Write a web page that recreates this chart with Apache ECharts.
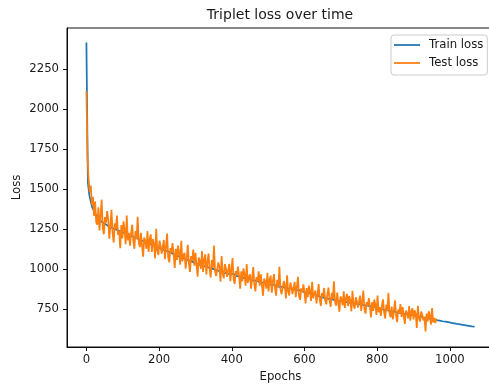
<!DOCTYPE html>
<html>
<head>
<meta charset="utf-8">
<script src="https://cdn.jsdelivr.net/npm/echarts@6/dist/echarts.min.js"></script>
<style>html,body{margin:0;padding:0;background:#fff;}#c{width:489px;height:389px;}</style>
</head>
<body>
<div id="c"></div>
<script>
// Sampling steps (epochs) between consecutive stored values
const trainStep = 4;
const testStep = 3;
const xTicks = [0, 200, 400, 600, 800, 1000];
const yTicks = [750, 1000, 1250, 1500, 1750, 2000, 2250];
const seriesNames = ['Train loss', 'Test loss'];

const trainLoss = [
  2414, 1540, 1460, 1420, 1385, 1365, 1345, 1330, 1318, 1305,
  1296, 1291, 1283, 1280, 1274, 1268, 1266, 1259, 1257, 1251,
  1249, 1243, 1241, 1236, 1233, 1227, 1226, 1220, 1218, 1212,
  1210, 1204, 1203, 1197, 1195, 1189, 1188, 1182, 1180, 1174,
  1172, 1166, 1165, 1159, 1156, 1150, 1149, 1143, 1140, 1135,
  1133, 1127, 1125, 1119, 1117, 1111, 1109, 1104, 1102, 1096,
  1094, 1088, 1086, 1080, 1078, 1072, 1070, 1065, 1063, 1057,
  1055, 1050, 1048, 1043, 1040, 1035, 1033, 1028, 1026, 1021,
  1021, 1017, 1016, 1011, 1010, 1005, 1004, 999, 998, 993,
  992, 987, 986, 981, 980, 975, 974, 969, 968, 966,
  965, 969, 960, 956, 961, 952, 948, 944, 950, 941,
  938, 942, 934, 930, 935, 926, 923, 927, 919, 916,
  920, 913, 911, 915, 907, 904, 908, 900, 897, 900,
  893, 890, 894, 886, 884, 888, 880, 878, 882, 876,
  875, 879, 871, 869, 872, 865, 863, 866, 859, 857,
  856, 851, 853, 848, 850, 844, 846, 840, 842, 835,
  826, 822, 825, 819, 821, 815, 818, 812, 814, 809,
  808, 804, 807, 800, 803, 797, 800, 794, 797, 791,
  794, 788, 791, 785, 788, 782, 785, 779, 782, 776,
  779, 773, 776, 769, 772, 766, 769, 762, 765, 759,
  758, 751, 754, 747, 750, 743, 746, 740, 743, 736,
  739, 733, 736, 729, 732, 725, 728, 722, 725, 718,
  721, 715, 718, 711, 714, 708, 711, 704, 707, 701,
  704, 697, 700, 694, 697, 690, 693, 687, 690, 683,
  686, 679, 682, 676, 679, 672, 675, 669, 672, 666,
  669, 662, 665, 659, 662, 655, 658, 652, 655, 649,
  652, 646, 649, 643, 646, 640, 643, 638
];

const testLoss = [
  2110, 1700, 1560, 1480, 1520, 1400, 1450, 1330, 1420, 1290,
  1276, 1384, 1240, 1336, 1432, 1252, 1216, 1324, 1288, 1360,
  1308, 1188, 1272, 1368, 1224, 1164, 1284, 1248, 1332, 1212,
  1237, 1129, 1273, 1189, 1297, 1249, 1153, 1333, 1177, 1225,
  1145, 1225, 1275, 1175, 1125, 1235, 1185, 1325, 1165, 1135,
  1225, 1145, 1075, 1195, 1175, 1125, 1235, 1105, 1185, 1215,
  1105, 1185, 1155, 1065, 1250, 1115, 1085, 1175, 1145, 1095,
  1090, 1180, 1060, 1140, 1220, 1070, 1040, 1130, 1100, 1160,
  1095, 1005, 1125, 1055, 1145, 1105, 1025, 1175, 1045, 1085,
  1100, 1000, 1070, 1150, 1030, 980, 1080, 1050, 1120, 1020,
  1100, 1020, 950, 1070, 1050, 1000, 1110, 980, 1060, 1090,
  965, 1045, 1095, 995, 945, 1055, 1005, 1145, 985, 955,
  960, 1040, 1010, 920, 1080, 970, 940, 1030, 1000, 950,
  950, 1031, 923, 995, 1067, 932, 905, 986, 959, 1013,
  957, 876, 984, 921, 1002, 966, 894, 1029, 912, 948,
  966, 876, 939, 1011, 903, 858, 948, 921, 984, 894,
  966, 894, 831, 939, 921, 876, 975, 858, 930, 957,
  850, 922, 967, 877, 832, 931, 886, 1012, 868, 841,
  851, 923, 896, 815, 959, 860, 833, 914, 887, 842,
  846, 918, 822, 886, 950, 830, 806, 878, 854, 902,
  855, 783, 879, 823, 895, 863, 799, 919, 815, 847,
  864, 784, 840, 904, 808, 768, 848, 824, 880, 800,
  778, 842, 882, 802, 762, 850, 810, 922, 794, 770,
  851, 787, 731, 827, 811, 771, 859, 755, 819, 843,
  766, 830, 806, 734, 862, 774, 750, 822, 798, 758,
  760, 832, 736, 800, 864, 744, 720, 792, 768, 816,
  768, 696, 792, 736, 808, 776, 712, 832, 728, 760,
  705, 769, 809, 729, 689, 777, 737, 849, 721, 697,
  763, 683, 739, 803, 707, 667, 747, 723, 779, 699,
  760, 704, 655, 739, 725, 690, 767, 676, 732, 753,
  684, 740, 719, 630, 768, 691, 670, 733, 712, 677,
  699, 608, 720, 671, 734, 706, 650, 755, 664, 692,
  660, 690
];

const toPairs = (arr, step) => arr.map((v, i) => [i * step, v]);
const FONT = 'DejaVu Sans';
const TXT = '#1a1a1a';
const FS = 11.7;

const chart = echarts.init(document.getElementById('c'), null, {renderer: 'canvas'});
chart.setOption({
  animation: false,
  backgroundColor: '#ffffff',
  grid: {left: 67, right: -5, top: 28, bottom: 42, show: true, borderColor: '#000', borderWidth: 0.93,
         containLabel: false, outerBoundsMode: 'none'},
  graphic: [{
    type: 'text', x: 280, y: 15, z: 10,
    style: {text: 'Triplet loss over time', fontFamily: FONT, fontSize: 14, fill: TXT, align: 'center', verticalAlign: 'middle'}
  }],
  legend: {
    data: seriesNames,
    orient: 'vertical',
    left: 391, top: 35,
    padding: [3, 4, 5, 3],
    itemGap: 4,
    itemWidth: 26, itemHeight: 1.75,
    icon: 'rect',
    borderColor: '#cccccc', borderWidth: 1, borderRadius: 3,
    backgroundColor: 'rgba(255,255,255,0.8)',
    textStyle: {fontFamily: FONT, fontSize: FS, color: TXT, lineHeight: 14, padding: [0, 0, 0, 4]}
  },
  xAxis: {
    type: 'value', min: -53.4, max: 1121.4,
    name: 'Epochs', nameLocation: 'middle', nameGap: 24, nameMoveOverlap: false,
    nameTextStyle: {fontFamily: FONT, fontSize: FS, color: TXT},
    axisLine: {show: true, onZero: false, lineStyle: {color: '#000', width: 0.93}},
    axisTick: {show: true, length: 4, lineStyle: {color: '#000', width: 0.93}, customValues: xTicks},
    axisLabel: {fontFamily: FONT, fontSize: FS, color: TXT, margin: 7, customValues: xTicks, formatter: v => String(v)},
    splitLine: {show: false}
  },
  yAxis: {
    type: 'value', min: 511, max: 2505,
    name: 'Loss', nameLocation: 'middle', nameGap: 44, nameMoveOverlap: false,
    nameTextStyle: {fontFamily: FONT, fontSize: FS, color: TXT},
    axisLine: {show: true, onZero: false, lineStyle: {color: '#000', width: 0.93}},
    axisTick: {show: true, length: 4, lineStyle: {color: '#000', width: 0.93}, customValues: yTicks},
    axisLabel: {fontFamily: FONT, fontSize: FS, color: TXT, margin: 8, customValues: yTicks, formatter: v => String(v)},
    splitLine: {show: false}
  },
  series: [
    {name: seriesNames[0], type: 'line', data: toPairs(trainLoss, trainStep), showSymbol: false, symbol: 'none',
     lineStyle: {color: '#1f77b4', width: 1.75}, itemStyle: {color: '#1f77b4'}, z: 2},
    {name: seriesNames[1], type: 'line', data: toPairs(testLoss, testStep), showSymbol: false, symbol: 'none',
     lineStyle: {color: '#ff7f0e', width: 1.75}, itemStyle: {color: '#ff7f0e'}, z: 3}
  ]
});
</script>
</body>
</html>
